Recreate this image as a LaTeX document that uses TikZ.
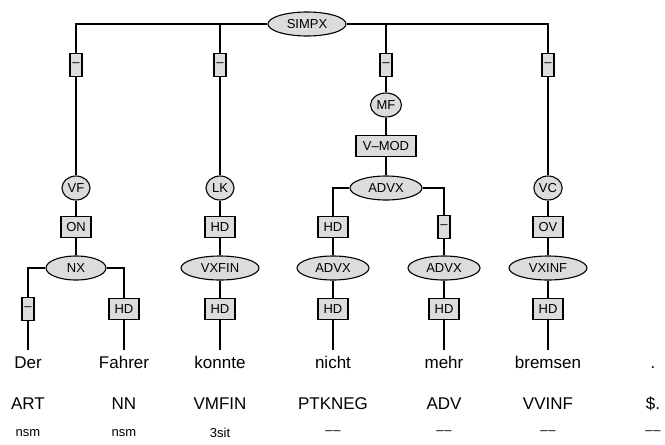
\documentclass[tikz,border=0pt]{standalone}
\usepackage{fontspec}
\setmainfont{Liberation Sans}
\usetikzlibrary{positioning, shapes.geometric}
\definecolor{catgray}{HTML}{DCDCDC}
\tikzset{
  edge line/.style = {line width = 1.1pt},
  cat/.style = {draw, line width = 1.1pt, fill = catgray, ellipse, inner sep = 1pt,
    minimum width = 28pt, minimum height = 24pt, font = \fontsize{13}{13}\selectfont},
  wide cat/.style = {cat, minimum width = #1},
  func/.style = {draw, line width = 1.1pt, fill = catgray, inner sep = 1pt,
    minimum width = 30pt, minimum height = 21pt, font = \fontsize{13}{13}\selectfont},
  nofunc/.style = {func, minimum width = 12pt, minimum height = 23pt},
  word/.style = {anchor = north, inner sep = 0pt, text height = 18pt, text depth = 4pt,
    font = \fontsize{17}{17}\selectfont},
  postag/.style = {inner sep = 0pt, font = \fontsize{17}{17}\selectfont},
  morph/.style = {inner sep = 0pt, font = \fontsize{13}{13}\selectfont}
}

\begin{document}
\begin{tikzpicture}[x = 1pt, y = -1pt]
\useasboundingbox (0,0) rectangle (665,445);

\node [wide cat = 78pt] (simpx) at (307,24) {SIMPX};

\node [nofunc] (f1) at (76,65) {--};
\node [nofunc] (f2) at (220,65) {--};
\node [nofunc] (f3) at (386,65) {--};
\node [nofunc] (f4) at (548,65) {--};

\node [cat, minimum width = 31pt] (mf) at (386,105) {MF};
\node [func, minimum width = 60pt] (vmod) at (386,146) {V--MOD};

\node [cat] (vf) at (76,188) {VF};
\node [cat] (lk) at (220,188) {LK};
\node [wide cat = 72pt] (advx) at (386,188) {ADVX};
\node [cat] (vc) at (548,188) {VC};

\node [func] (on) at (76,227) {ON};
\node [func] (hdlk) at (220,227) {HD};
\node [func] (hdadvx) at (333,227) {HD};
\node [nofunc] (f5) at (444,227) {--};
\node [func] (ov) at (548,227) {OV};

\node [wide cat = 60pt] (nx) at (76,268) {NX};
\node [wide cat = 78pt] (vxfin) at (220,268) {VXFIN};
\node [wide cat = 72pt] (advxa) at (333,268) {ADVX};
\node [wide cat = 72pt] (advxb) at (444,268) {ADVX};
\node [wide cat = 78pt] (vxinf) at (548,268) {VXINF};

\node [nofunc] (f6) at (28,309) {--};
\node [func] (hdnx) at (124,309) {HD};
\node [func] (hdvxfin) at (220,309) {HD};
\node [func] (hda) at (333,309) {HD};
\node [func] (hdb) at (444,309) {HD};
\node [func] (hdvxinf) at (548,309) {HD};

\node [word] (w1) at (28,350) {Der};
\node [word] (w2) at (124,350) {Fahrer};
\node [word] (w3) at (220,350) {konnte};
\node [word] (w4) at (333,350) {nicht};
\node [word] (w5) at (444,350) {mehr};
\node [word] (w6) at (548,350) {bremsen};
\node [word] (w7) at (653,350) {.};

\node [postag] (t1) at (28,404) {ART};
\node [postag] (t2) at (124,404) {NN};
\node [postag] (t3) at (220,404) {VMFIN};
\node [postag] (t4) at (333,404) {PTKNEG};
\node [postag] (t5) at (444,404) {ADV};
\node [postag] (t6) at (548,404) {VVINF};
\node [postag] (t7) at (653,404) {\$.};

\node [morph] (m1) at (28,433) {nsm};
\node [morph] (m2) at (124,433) {nsm};
\node [morph] (m3) at (220,433) {3sit};
\node [morph] (m4) at (333,433) {--\kern1pt--};
\node [morph] (m5) at (444,433) {--\kern1pt--};
\node [morph] (m6) at (548,433) {--\kern1pt--};
\node [morph] (m7) at (653,433) {--\kern1pt--};

\begin{scope}[edge line]
\draw (simpx) -| (f1);
\draw (simpx) -| (f2);
\draw (simpx) -| (f3);
\draw (simpx) -| (f4);
\draw (f1) -- (vf) -- (on) -- (nx);
\draw (f2) -- (lk) -- (hdlk) -- (vxfin) -- (hdvxfin) -- (w3);
\draw (f3) -- (mf) -- (vmod) -- (advx);
\draw (f4) -- (vc) -- (ov) -- (vxinf) -- (hdvxinf) -- (w6);
\draw (advx) -| (hdadvx);
\draw (advx) -| (f5);
\draw (hdadvx) -- (advxa) -- (hda) -- (w4);
\draw (f5) -- (advxb) -- (hdb) -- (w5);
\draw (nx) -| (f6);
\draw (nx) -| (hdnx);
\draw (f6) -- (w1);
\draw (hdnx) -- (w2);
\end{scope}
\end{tikzpicture}
\end{document}
